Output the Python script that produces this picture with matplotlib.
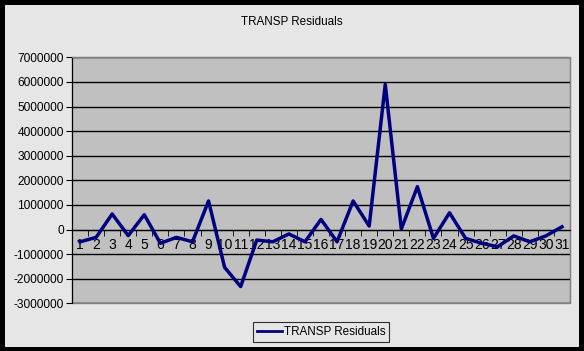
import matplotlib
matplotlib.use("Agg")
import matplotlib.pyplot as plt
from matplotlib.patches import Rectangle

plt.rcParams['font.family'] = ['Liberation Sans', 'DejaVu Sans']

# data
categories = list(range(1, 32))
residuals = [-500000, -320000, 630000, -250000, 600000, -560000, -320000, -500000,
             1160000, -1540000, -2320000, -430000, -500000, -180000, -500000, 410000,
             -500000, 1160000, 140000, 5900000, 20000, 1740000, -360000, 680000,
             -360000, -560000, -700000, -260000, -500000, -260000, 110000]
y_ticks = list(range(-3000000, 7000001, 1000000))
series_name = "TRANSP Residuals"

W, H = 584, 351
fig = plt.figure(figsize=(W / 100, H / 100), dpi=100)
fig.patch.set_facecolor('black')
fig.patches.append(Rectangle((5 / W, 1 - 347 / H), 574 / W, 342 / H,
                             transform=fig.transFigure, facecolor='#e6e6e6',
                             edgecolor='none', zorder=-10))

ax = fig.add_axes([72 / W, 1 - 303.3 / H, 498 / W, 246 / H])
ax.set_zorder(2)
ax.set_facecolor('#c0c0c0')
ax.patch.set_edgecolor('#808080')
ax.patch.set_linewidth(1)

ax.plot(categories, residuals, color='#000080', lw=2.5, zorder=3, label=series_name)

ax.set_xlim(0.5, 31.5)
ax.set_ylim(-3000000, 7000000)
ax.set_yticks(y_ticks)
ax.set_yticklabels([str(v) for v in y_ticks], fontsize=8.6)
ax.yaxis.grid(True, color='black', lw=1)
ax.set_axisbelow(True)

ax.set_xticks(categories)
ax.set_xticklabels([str(c) for c in categories], fontsize=8.6)
ax.set_xticks([c + 0.5 for c in categories[:-1]], minor=True)
ax.tick_params(axis='x', which='major', length=0, pad=6)
ax.tick_params(axis='x', which='minor', length=4, direction='out', color='black')
ax.tick_params(axis='y', length=4, direction='out', pad=2)

ax.spines['bottom'].set_position(('data', 0))
ax.spines['bottom'].set_color('black')
ax.spines['left'].set_color('black')
ax.spines['top'].set_color('#808080')
ax.spines['right'].set_color('#808080')

fig.text(292 / W, 1 - 22 / H, "TRANSP Residuals", ha='center', va='center', fontsize=8.4)

leg = fig.legend(loc='center', bbox_to_anchor=(321 / W, 1 - 332 / H), fontsize=8.4,
                 frameon=True, fancybox=False, edgecolor='black', handlelength=2.2,
                 handletextpad=0.1, borderpad=0.35)
leg.get_frame().set_facecolor('#e6e6e6')
leg.get_frame().set_linewidth(0.8)
leg.get_lines()[0].set_linewidth(2)

fig.savefig('out.png', dpi=100, facecolor=fig.get_facecolor())
